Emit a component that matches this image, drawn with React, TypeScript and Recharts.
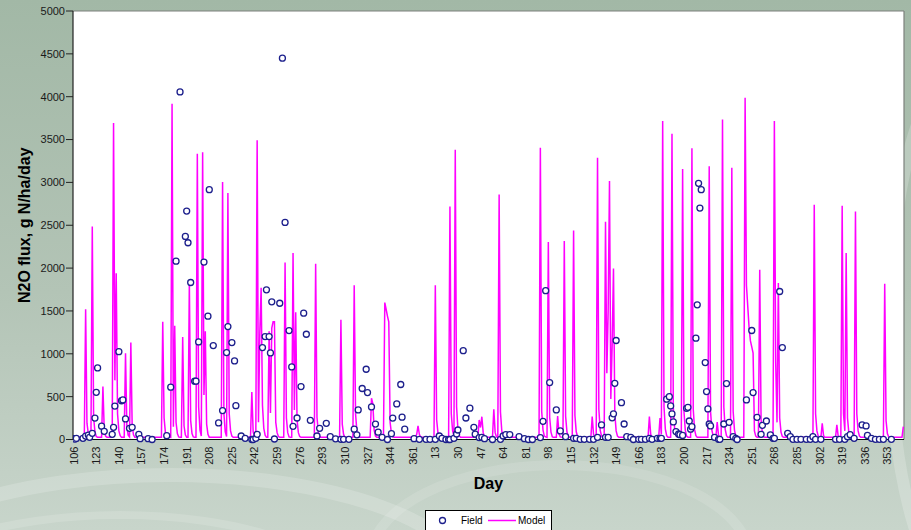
import React from 'react';
import {
  ComposedChart,
  Line,
  Scatter,
  XAxis,
  YAxis,
  CartesianGrid,
  ReferenceLine,
  Label,
} from 'recharts';

const FONT = 'Arial, "Liberation Sans", Helvetica, sans-serif';

// Days are counted continuously: year 1 day d -> d, year 2 day d -> 365 + d.
const dayTicks = [
  106, 123, 140, 157, 174, 191, 208, 225, 242, 259, 276, 293, 310, 327, 344, 361,
  378, 395, 412, 429, 446, 463, 480, 497, 514, 531, 548, 565, 582, 599, 616, 633,
  650, 667, 684, 701, 718,
];
const fluxTicks = [0, 500, 1000, 1500, 2000, 2500, 3000, 3500, 4000, 4500, 5000];
const dayDomain: [number, number] = [105.5, 730.5];

// Simulated daily flux: each entry is [first day, consecutive daily values];
// between entries the model sits on its background level.
const modelStart: [number, number] = [106, 25];
const modelSpikes: [number, number[]][] = [
  [114, [25, 1520, 190, 70, 25]],
  [119, [25, 2486, 260, 90, 35, 25]],
  [127, [25, 617, 110, 40, 25]],
  [135, [25, 3694, 690, 1940, 300, 100, 45, 25]],
  [144, [25, 1007, 150, 50, 30, 1131, 160, 55, 25]],
  [172, [25, 1373, 250, 80, 30]],
  [179, [25, 3919, 150, 1326, 200, 70, 30, 25]],
  [187, [25, 1197, 160, 55, 25]],
  [192, [25, 1832, 220, 70, 30, 25]],
  [198, [25, 3335, 380, 110, 40, 3351, 520, 1264, 180, 60, 25]],
  [217, [25, 3005, 300, 90, 35, 2876, 300, 100, 40, 25]],
  [239, [25, 555, 90, 30]],
  [243, [30, 3491, 200, 1250, 1770, 400, 130, 50, 25]],
  [252, [25, 1264, 310, 1300, 1373, 1373, 200, 80, 35, 25]],
  [264, [25, 2066, 250, 80, 30, 25]],
  [270, [25, 2175, 345, 1486, 230, 80, 35, 25]],
  [287, [25, 2050, 260, 85, 35, 25]],
  [306, [25, 1396, 180, 60, 25]],
  [316, [25, 1801, 300, 100, 40, 25]],
  [329, [25, 481, 420, 110, 40, 25]],
  [339, [25, 1598, 1520, 1440, 1373, 200, 70, 30, 25]],
  [363, [25, 60, 158, 60, 25]],
  [377, [25, 1801, 230, 75, 30, 25]],
  [388, [25, 2720, 300, 100, 40, 3382, 380, 120, 45, 25]],
  [410, [25, 228, 140, 266, 80, 30, 25]],
  [421, [25, 353, 80, 30, 25, 2860, 320, 100, 40, 25]],
  [456, [25, 3405, 330, 110, 40, 30, 25, 2304, 260, 85, 30, 25]],
  [469, [25, 274, 70, 30]],
  [474, [25, 2315, 270, 90, 35, 25]],
  [481, [25, 2440, 280, 90, 35, 25]],
  [495, [25, 267, 60, 25]],
  [499, [25, 3289, 350, 110, 40, 25]],
  [505, [25, 2541, 773, 1500, 3016, 473, 1100, 1996, 300, 100, 40, 25]],
  [538, [25, 267, 60, 25]],
  [546, [25, 251, 60, 3717, 380, 120, 45, 25]],
  [555, [25, 3569, 370, 120, 45, 25]],
  [563, [25, 3156, 330, 110, 40, 25]],
  [570, [25, 3397, 350, 115, 45, 25]],
  [583, [25, 3187, 330, 110, 40, 25]],
  [589, [25, 204, 50, 25]],
  [593, [25, 3733, 380, 120, 45, 25]],
  [600, [25, 3172, 330, 110, 40, 25]],
  [610, [25, 3989, 1800, 1550, 1300, 1150, 1080, 1007, 100, 40, 25]],
  [621, [25, 1980, 230, 75, 30, 25]],
  [632, [25, 3717, 900, 200, 1825, 250, 85, 35, 25]],
  [662, [25, 2740, 300, 100, 40, 25]],
  [668, [25, 189, 45, 25]],
  [679, [25, 170, 40, 25]],
  [683, [25, 2728, 300, 100, 2175, 250, 80, 35, 25]],
  [693, [25, 2661, 300, 100, 40, 25]],
  [715, [25, 1816, 220, 70, 30, 25]],
  [729, [25, 150]],
];

// Measured flux: [day, g N/ha/day]
const fieldObs: [number, number][] = [
  [106, 10], [107, 5], [108, 12], [113, 14], [115, 40], [117, 52], [118, 25], [120, 72],
  [122, 250], [123, 550], [124, 835], [127, 155], [129, 95], [135, 60], [136, 142], [137, 390],
  [140, 1025], [142, 452], [143, 462], [145, 240], [148, 130], [150, 142], [155, 60], [156, 10],
  [162, 10], [165, 0], [176, 45], [179, 610], [183, 2081], [186, 4056], [190, 2370], [191, 2665],
  [192, 2296], [194, 1832], [197, 680], [198, 680], [200, 1139], [204, 2070], [207, 1439], [208, 2915],
  [211, 1096], [215, 193], [218, 337], [221, 1014], [222, 1318], [225, 1131], [227, 917], [228, 395],
  [232, 41], [235, 14], [240, 0], [241, 0], [243, 14], [244, 60], [248, 1073], [250, 1201],
  [251, 1746], [253, 1201], [254, 1010], [255, 1606], [257, 6], [261, 1590], [263, 4449], [265, 2533],
  [268, 1271], [270, 847], [271, 154], [274, 251], [277, 617], [279, 1474], [281, 1228], [284, 224],
  [289, 41], [291, 130], [296, 189], [299, 33], [303, 8], [307, 2], [309, 2], [313, 2],
  [317, 120], [319, 55], [320, 345], [323, 595], [326, 820], [327, 547], [330, 380], [333, 180],
  [335, 85], [338, 25], [342, 0], [345, 68], [346, 250], [349, 415], [352, 642], [353, 260],
  [355, 120], [362, 10], [366, 2], [371, 2], [374, 2], [378, 2], [381, 41], [383, 14],
  [386, 0], [388, 0], [389, 0], [392, 14], [394, 64], [395, 111], [399, 1036], [401, 251],
  [404, 366], [407, 142], [408, 62], [411, 22], [413, 25], [415, 10], [421, 0], [427, 2],
  [429, 41], [431, 58], [434, 58], [441, 33], [445, 10], [448, 0], [451, 0], [457, 23],
  [459, 212], [461, 1737], [464, 664], [469, 345], [472, 100], [476, 33], [482, 14], [484, 14],
  [487, 2], [490, 2], [494, 2], [497, 2], [500, 25], [503, 170], [506, 25], [508, 25],
  [511, 253], [512, 300], [513, 656], [514, 1155], [518, 430], [520, 181], [522, 33], [525, 25],
  [527, 0], [531, 2], [533, 2], [536, 2], [539, 14], [541, 2], [545, 14], [547, 14],
  [548, 14], [552, 470], [554, 500], [555, 392], [556, 298], [557, 205], [559, 92], [561, 64],
  [562, 56], [564, 48], [567, 364], [568, 376], [569, 216], [570, 120], [571, 150], [574, 1182],
  [575, 1571], [576, 2989], [577, 2700], [578, 2915], [581, 898], [582, 559], [583, 357], [584, 181],
  [585, 158], [588, 25], [591, 2], [592, 2], [595, 181], [597, 652], [599, 200], [602, 33],
  [604, 14], [605, 0], [612, 462], [616, 1272], [617, 547], [620, 259], [623, 60], [624, 165],
  [627, 216], [630, 53], [632, 14], [633, 14], [637, 1727], [639, 1073], [643, 72], [645, 33],
  [647, 2], [650, 2], [653, 2], [657, 2], [660, 2], [662, 33], [664, 2], [668, 2],
  [679, 2], [682, 2], [686, 2], [688, 33], [690, 56], [693, 14], [699, 170], [702, 158],
  [703, 48], [706, 14], [709, 2], [712, 2], [715, 2], [721, 2],
];

const modelRows: { day: number; flux: number }[] = [{ day: modelStart[0], flux: modelStart[1] }];
modelSpikes.forEach(([first, values]) => {
  values.forEach((v, k) => modelRows.push({ day: first + k, flux: v }));
});

const fieldRows = fieldObs.map(([day, flux]) => ({ day, flux }));

const dayLabel = (d: number) => (d > 365 ? d - 365 : d);

const DayTick = (props: any) => {
  const { x, y, payload } = props;
  const ty = y + 7;
  return (
    <text
      x={x}
      y={ty}
      transform={`rotate(-90, ${x}, ${ty})`}
      textAnchor="end"
      dominantBaseline="central"
      fontSize={11}
      fontFamily={FONT}
      fill="#1a1a1a"
    >
      {dayLabel(payload.value)}
    </text>
  );
};

const FieldDot = (props: any) => {
  const { cx, cy } = props;
  if (cx == null || cy == null) return null;
  return <circle cx={cx} cy={cy} r={3} fill="#ffffff" stroke="#1c1f8c" strokeWidth={1.3} />;
};

const YTitle = (props: any) => {
  const vb = props.viewBox || { y: 11, height: 428 };
  const cx = 24.5;
  const cy = vb.y + vb.height / 2;
  return (
    <text
      x={cx}
      y={cy}
      transform={`rotate(-90, ${cx}, ${cy})`}
      textAnchor="middle"
      dominantBaseline="central"
      fontSize={16}
      fontWeight="bold"
      fontFamily={FONT}
      fill="#000"
    >
      N2O flux, g N/ha/day
    </text>
  );
};

const XTitle = (props: any) => {
  const vb = props.viewBox || { x: 73, width: 831 };
  return (
    <text
      x={vb.x + vb.width / 2}
      y={489}
      textAnchor="middle"
      fontSize={16}
      fontWeight="bold"
      fontFamily={FONT}
      fill="#000"
    >
      Day
    </text>
  );
};

const Backdrop = () => (
  <svg width={911} height={530} style={{ position: 'absolute', left: 0, top: 0 }}>
    <defs>
      <linearGradient id="bg" x1="0" y1="0" x2="0" y2="1">
        <stop offset="0%" stopColor="#a2b8a6" />
        <stop offset="55%" stopColor="#b3c4b6" />
        <stop offset="100%" stopColor="#c8d5cb" />
      </linearGradient>
    </defs>
    <rect x={0} y={0} width={911} height={530} fill="url(#bg)" />
    <g fill="none" stroke="#ffffff">
      <ellipse cx={170} cy={585} rx={300} ry={110} strokeOpacity={0.18} strokeWidth={14} />
      <ellipse cx={120} cy={600} rx={230} ry={85} strokeOpacity={0.14} strokeWidth={8} />
      <ellipse cx={560} cy={560} rx={190} ry={95} strokeOpacity={0.12} strokeWidth={10} />
      <ellipse cx={960} cy={330} rx={70} ry={260} strokeOpacity={0.2} strokeWidth={12} />
    </g>
  </svg>
);

const LegendBox = () => (
  <div
    style={{
      position: 'absolute',
      left: 425,
      top: 510,
      width: 125,
      height: 22,
      background: '#ffffff',
      border: '1px solid #000',
      fontFamily: FONT,
      fontSize: 10,
      color: '#000',
    }}
  >
    <svg width={125} height={22} style={{ position: 'absolute', left: 0, top: 0 }}>
      <circle cx={16.5} cy={9.5} r={3} fill="#ffffff" stroke="#1c1f8c" strokeWidth={1.3} />
      <text x={35} y={13} fontSize={10} fontFamily={FONT} fill="#000">
        Field
      </text>
      <line x1={62} y1={9.5} x2={90} y2={9.5} stroke="#ff00ff" strokeWidth={1.5} />
      <text x={92} y={13} fontSize={10} fontFamily={FONT} fill="#000">
        Model
      </text>
    </svg>
  </div>
);

export default function App() {
  return (
    <div style={{ position: 'absolute', left: 0, top: 0, width: 911, height: 530, overflow: 'hidden' }}>
      <Backdrop />
      <div style={{ position: 'absolute', left: 0, top: 0 }}>
        <ComposedChart width={911} height={530} margin={{ top: 11, right: 7, bottom: 0, left: 0 }}>
          <CartesianGrid fill="#ffffff" stroke="none" horizontal={false} vertical={false} />
          <XAxis
            dataKey="day"
            type="number"
            domain={dayDomain}
            allowDataOverflow
            ticks={dayTicks}
            interval={0}
            height={90.5}
            tickLine={false}
            tickSize={0}
            tickMargin={0}
            axisLine={{ stroke: '#111', strokeWidth: 1.2 }}
            tick={<DayTick />}
          >
            <Label content={<XTitle />} />
          </XAxis>
          <YAxis
            type="number"
            domain={[0, 5000]}
            ticks={fluxTicks}
            interval={0}
            width={73}
            tickSize={7}
            tickMargin={1}
            tickLine={{ stroke: '#222' }}
            axisLine={{ stroke: '#222', strokeWidth: 1.2 }}
            tick={{ fontSize: 11, fill: '#1a1a1a', fontFamily: FONT }}
          >
            <Label content={<YTitle />} />
          </YAxis>
          <ReferenceLine y={5000} stroke="#7c807c" strokeWidth={1.2} ifOverflow="visible" />
          <ReferenceLine x={730.5} stroke="#7c807c" strokeWidth={1.2} ifOverflow="visible" />
          <Line
            data={modelRows}
            dataKey="flux"
            type="linear"
            stroke="#ff00ff"
            strokeWidth={1.5}
            dot={false}
            activeDot={false}
            isAnimationActive={false}
          />
          <Scatter
            data={fieldRows}
            dataKey="flux"
            shape={<FieldDot />}
            isAnimationActive={false}
          />
        </ComposedChart>
      </div>
      <LegendBox />
    </div>
  );
}
